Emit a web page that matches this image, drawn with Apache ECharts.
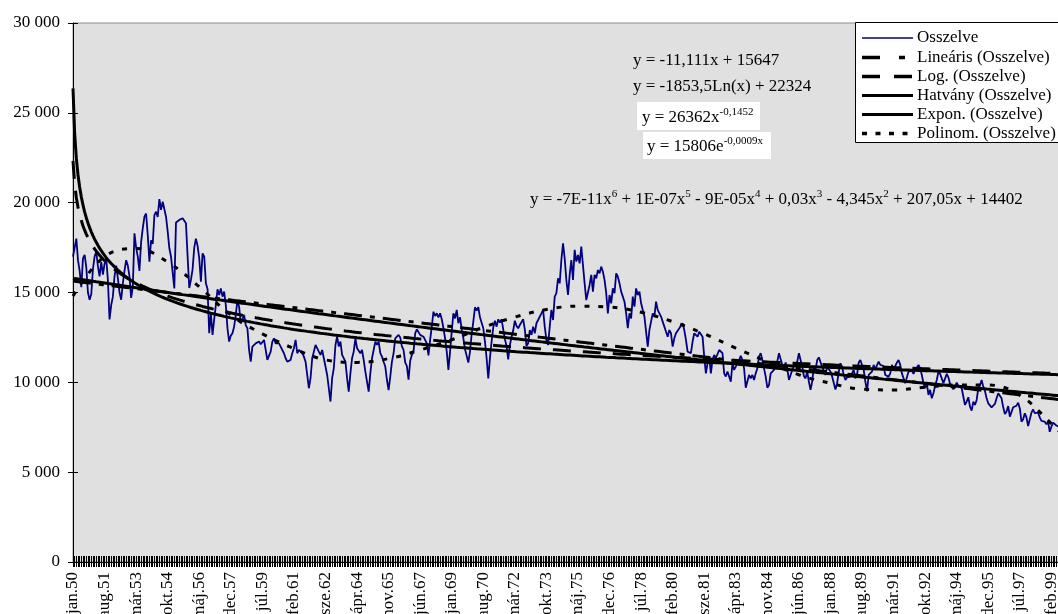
<!DOCTYPE html>
<html>
<head>
<meta charset="utf-8">
<script src="https://cdn.jsdelivr.net/npm/echarts@6/dist/echarts.min.js"></script>
<style>html,body{margin:0;padding:0;background:#fff;overflow:hidden}#c{width:1058px;height:614px}</style>
</head>
<body>
<div id="c"></div>
<script>
// ---- tick labels ----
const monthNames = ['jan','feb','már','ápr','máj','jún','júl','aug','sze','okt','nov','dec'];
const years = [];
for (let y = 1950; y <= 1999; y++) years.push(y);
const categories = [];
years.forEach(y => monthNames.forEach(m => categories.push(m + '.' + String(y).slice(2))));
const yTicks = [0, 5000, 10000, 15000, 20000, 25000, 30000];

// ---- monthly series "Osszelve" ----
const osszelve = [
17000,17500,18000,16800,16200,15300,16900,17100,16400,15000,14600,14900,
16300,17000,17270,16450,15900,16700,16000,16600,16900,15700,13500,14300,
14770,15900,16500,15800,15000,14600,15500,16200,16800,16500,15900,14700,
15300,18290,17500,17000,16200,17800,18570,19220,19400,18200,16720,17900,
17700,19300,19500,19200,20200,19600,20050,20000,19220,18400,17460,17000,
17090,15230,18900,18950,19040,18950,19130,19040,18850,17000,15250,15700,
16300,17500,18000,17600,16900,15600,17180,17000,15510,15200,12730,13840,
12640,13500,14300,15180,14860,15230,14770,15050,14300,13000,12270,12600,
12730,13100,13750,14580,14200,13290,13400,13750,13190,13000,11800,11150,
11990,12080,12170,12080,12270,12120,12170,12360,12270,11250,11150,11710,
12270,12450,12170,12080,12170,11990,11800,11620,11340,11150,11060,11250,
11620,11900,12360,11620,11800,11710,11620,11430,11150,10410,9670,10230,
11340,11710,12080,11900,11710,11530,11800,11340,10880,10410,9670,8930,
10230,10780,12080,12550,11990,12270,11530,11430,11150,10230,9480,10500,
11340,11710,12450,11900,11990,11620,11800,11250,10600,10040,9480,10500,
11340,11800,12270,12080,12270,11620,11430,11150,10880,10130,9570,10320,
11150,11620,12450,12550,12640,12500,12000,11800,11100,10900,10150,11200,
11520,11710,12730,12950,12910,12640,12730,12540,12640,12170,11500,12360,
13100,13930,13690,13840,13620,13840,13510,13010,12450,11710,10690,11710,
12820,13840,13560,14030,13290,13620,12950,12450,11840,11890,11100,11710,
12690,13380,14180,13990,14180,13620,13560,13010,12270,11340,10220,11340,
12270,13060,13430,13100,13510,13320,13510,12950,12400,12020,11280,12080,
12510,12880,13430,13140,13010,13190,13290,13510,12950,12020,12170,12910,
12640,13100,12730,13290,13470,13380,13840,14030,13100,12360,12080,13100,
14030,13470,14770,14960,15790,15510,16810,17740,16900,15700,14860,15980,
16810,15700,17370,16720,17090,16620,17550,16530,15510,14580,14490,15420,
15980,15050,15980,15790,16250,16070,16440,16160,15700,14960,13840,14860,
14400,15230,14960,16070,15880,15510,15050,14770,14490,13840,13010,13840,
13560,14770,14210,15230,14860,15050,14400,14030,13660,12820,11990,12910,
13380,13840,13660,14490,14030,13930,13660,13380,13100,12820,12540,12910,
12730,11990,12450,12730,12820,13010,13100,13290,12910,12360,11710,11800,
11620,12270,12730,12640,12540,12820,12730,12540,11430,10500,11060,11430,
10500,11250,11520,11340,11430,11800,11890,11620,10500,10320,10600,10320,
10040,11060,10690,10870,10780,11240,11470,11240,10780,9700,9600,10410,
10220,10410,10130,10500,10780,11430,11620,11240,10780,10320,9700,9850,
10500,10410,10690,11020,11170,11620,11620,10970,10780,11100,10780,10130,
10410,10690,10910,10840,11150,11620,11520,10870,10350,10220,10600,10040,
9580,10040,10870,10690,11240,11390,11390,10870,10780,10410,10870,10870,
10600,10320,10410,9600,9950,10600,11060,10870,10410,10130,10280,10170,
10320,10410,10690,10220,10410,11100,11240,11150,10690,10040,9500,10410,
10450,10600,10970,10730,10650,11150,10970,10970,10910,10410,10410,10320,
10500,10970,10780,10910,11100,11240,10970,10500,10500,9950,10040,10600,
10500,10650,10470,10690,10780,10970,10780,10410,9950,9670,9950,9300,
9580,9110,9390,9800,10130,10600,10470,10220,9950,9950,10470,10280,
9910,9950,9610,9720,9980,9800,9800,9670,9200,8740,8930,9170,
8650,8430,8930,8740,9020,9670,9830,10130,9760,9520,9110,8830,
8930,8610,8680,8800,9110,9390,9300,9110,8610,8240,8370,8680,
8090,8180,8610,8550,8700,8870,8550,7810,7940,8280,8050,7570,
7940,8310,8500,8280,8280,8310,8050,7850,7910,7810,7660,7810,
7250,7530,7760,7680,7600,7700,7500,7650,7400,7550,7700,7600
];

// ---- trendline equations shown on the chart ----
const linCoef = [-11.111, 15647];      // y = a*x + b
const logCoef = [-1853.5, 22324];      // y = a*ln(x) + b
const powCoef = [26362, -0.1452];      // y = a*x^b
const expCoef = [15806, -0.0009];      // y = a*e^(b*x)

// polynomial trendline at label positions
const polyIdx = [0,19,38,57,76,95,114,133,152,171,190,209,228,247,266,285,304,323,342,361,380,399,418,437,456,475,494,513,532,551,570,589,599];
const polyVal = [14800,17000,17450,16700,15320,13750,12700,11880,11250,11110,11320,11800,12370,13060,13630,14050,14240,14190,13900,13380,12700,11900,11150,10420,9950,9620,9575,9730,9850,9850,9280,7700,6800];

const n = osszelve.length;
const linear = [], logar = [], power = [], expon = [];
for (let i = 0; i < n; i++) {
  const x = i + 1;
  linear.push(linCoef[0] * x + linCoef[1]);
  logar.push(logCoef[0] * Math.log(x) + logCoef[1]);
  power.push(powCoef[0] * Math.pow(x, powCoef[1]));
  expon.push(expCoef[0] * Math.exp(expCoef[1] * x));
}
const poly = polyIdx.map((ix, k) => [ix, polyVal[k]]);

const FONT = 'Liberation Serif';
const chart = echarts.init(document.getElementById('c'), null, {renderer: 'canvas'});

const dashLin = [18, 8, 5, 8];
const dashLog = [18, 12];
const dashPoly = [5, 9];

const legendRows = [
  {name: 'Osszelve', color: '#000080', w: 1.5, dash: null},
  {name: 'Lineáris (Osszelve)', color: '#000', w: 3.5, dash: [18, 19, 6, 20]},
  {name: 'Log. (Osszelve)', color: '#000', w: 3.5, dash: [18, 14]},
  {name: 'Hatvány (Osszelve)', color: '#000', w: 3, dash: null},
  {name: 'Expon. (Osszelve)', color: '#000', w: 3, dash: null},
  {name: 'Polinom. (Osszelve)', color: '#000', w: 3.5, dash: [5, 8.5]}
];
const legendY = [38, 57.5, 76.5, 95.5, 114.5, 133.5];

const graphics = [];
graphics.push({type: 'rect', z: 100, shape: {x: 855.5, y: 22.5, width: 215, height: 120}, style: {fill: '#fff', stroke: '#000', lineWidth: 1}});
legendRows.forEach((r, k) => {
  const y = legendY[k];
  graphics.push({type: 'line', z: 101, shape: {x1: 862, y1: y, x2: 913, y2: y},
    style: {stroke: r.color, lineWidth: r.w, lineDash: r.dash || null}});
  graphics.push({type: 'text', z: 101, x: 917, y: y,
    style: {text: r.name, fill: '#000', font: '17px "' + FONT + '"', align: 'left', verticalAlign: 'middle'}});
});

const richSup = {
  s: {fontSize: 11, fontFamily: FONT, fill: '#000', verticalAlign: 'top', lineHeight: 11}
};
function eqText(x, y, text) {
  return {type: 'text', z: 101, x: x, y: y,
    style: {text: text, fill: '#000', fontSize: 17, fontFamily: FONT, lineHeight: 22, align: 'left', verticalAlign: 'middle', rich: richSup}};
}
graphics.push(eqText(633, 61, 'y = -11,111x + 15647'));
graphics.push(eqText(633, 87, 'y = -1853,5Ln(x) + 22324'));
graphics.push({type: 'rect', z: 100, shape: {x: 637, y: 102, width: 123, height: 28}, style: {fill: '#fff'}});
graphics.push(eqText(642, 118, 'y = 26362x{s|-0,1452}'));
graphics.push({type: 'rect', z: 100, shape: {x: 643, y: 132, width: 128, height: 27}, style: {fill: '#fff'}});
graphics.push(eqText(647, 147, 'y = 15806e{s|-0,0009x}'));
graphics.push(eqText(530, 200, 'y = -7E-11x{s|6} + 1E-07x{s|5} - 9E-05x{s|4} + 0,03x{s|3} - 4,345x{s|2} + 207,05x + 14402'));

const option = {
  animation: false,
  backgroundColor: '#ffffff',
  grid: {left: 73, width: 995, top: 23, bottom: 52, containLabel: false, outerBoundsMode: 'none',
    show: true, backgroundColor: '#E0E0E0', borderColor: '#8c8c8c', borderWidth: 1},
  xAxis: [
    {type: 'category', data: categories, boundaryGap: false,
      axisLine: {show: true, lineStyle: {color: '#000', width: 1}},
      axisTick: {show: true, interval: 0, length: 5, lineStyle: {color: '#000', width: 1}},
      axisLabel: {interval: 18, rotate: 90, fontFamily: FONT, fontSize: 17, color: '#000', margin: 10},
      splitLine: {show: false}},
    {type: 'category', data: categories, boundaryGap: false, position: 'bottom',
      axisLine: {show: false},
      axisTick: {show: true, inside: true, interval: 0, length: 6, lineStyle: {color: '#000', width: 1}},
      axisLabel: {show: false}, splitLine: {show: false}},
    {type: 'value', min: 0, max: n - 1, show: false}
  ],
  yAxis: [
    {type: 'value', min: yTicks[0], max: yTicks[yTicks.length - 1], interval: 5000,
      axisLine: {show: true, lineStyle: {color: '#000', width: 1}},
      axisTick: {show: true, length: 5, lineStyle: {color: '#000'}},
      axisLabel: {fontFamily: FONT, fontSize: 17, color: '#000', margin: 13,
        formatter: v => String(v).replace(/\B(?=(\d{3})+(?!\d))/g, ' ')},
      splitLine: {show: false}},
    {type: 'value', min: yTicks[0], max: yTicks[yTicks.length - 1], interval: 5000, position: 'left',
      axisLine: {show: false},
      axisTick: {show: true, inside: true, length: 5, lineStyle: {color: '#000'}},
      axisLabel: {show: false}, splitLine: {show: false}}
  ],
  series: [
    {name: 'Osszelve', type: 'line', data: osszelve, showSymbol: false, symbol: 'none',
      lineStyle: {color: '#000080', width: 1.8}, z: 2},
    {name: 'Lineáris (Osszelve)', type: 'line', data: linear, symbol: 'none',
      lineStyle: {color: '#000', width: 3, type: dashLin}, z: 3},
    {name: 'Log. (Osszelve)', type: 'line', data: logar, symbol: 'none',
      lineStyle: {color: '#000', width: 3, type: dashLog}, z: 3},
    {name: 'Hatvány (Osszelve)', type: 'line', data: power, symbol: 'none',
      lineStyle: {color: '#000', width: 3}, z: 3},
    {name: 'Expon. (Osszelve)', type: 'line', data: expon, symbol: 'none',
      lineStyle: {color: '#000', width: 3}, z: 3},
    {name: 'Polinom. (Osszelve)', type: 'line', xAxisIndex: 2, data: poly, symbol: 'none', smooth: 0.4,
      lineStyle: {color: '#000', width: 3, type: dashPoly}, z: 3}
  ],
  graphic: graphics
};
chart.setOption(option);
</script>
</body>
</html>
